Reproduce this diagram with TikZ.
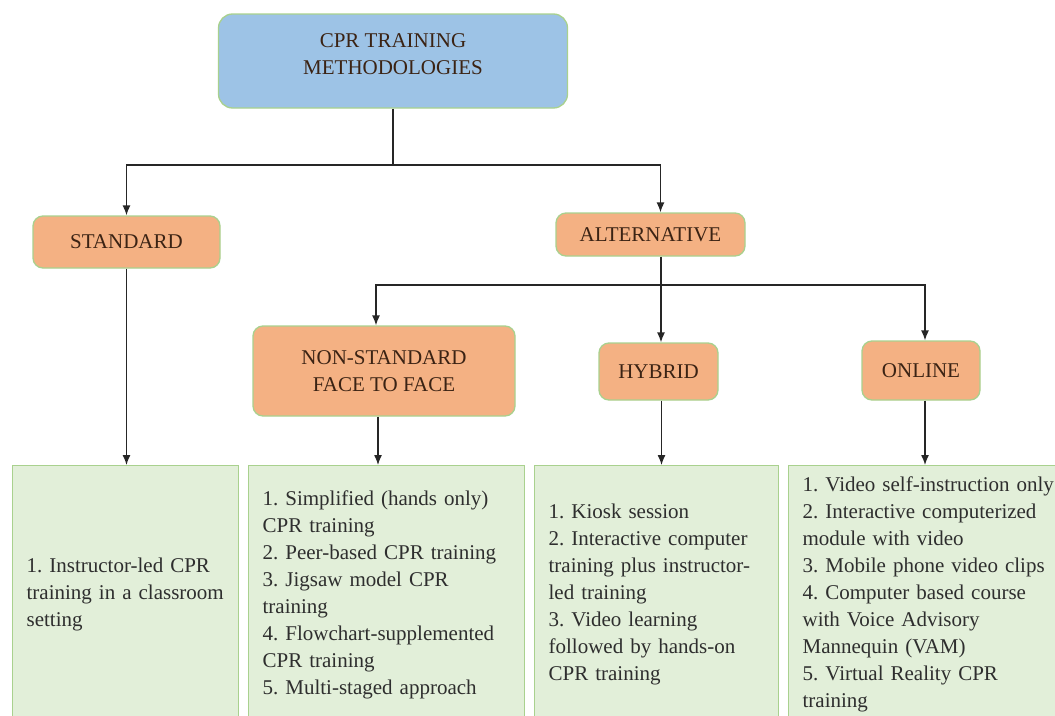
\documentclass[tikz,border=0pt]{standalone}
\usepackage{fontspec}
\setmainfont{Liberation Serif}
\usetikzlibrary{arrows.meta}
\definecolor{rootfill}{HTML}{9DC3E6}
\definecolor{catfill}{HTML}{F4B183}
\definecolor{listfill}{HTML}{E2EFD9}
\definecolor{boxline}{HTML}{A9D18E}
\definecolor{cattext}{HTML}{3B2314}
\definecolor{listtext}{HTML}{2E2E2E}
\begin{document}
\frenchspacing
\begin{tikzpicture}[
    x=1pt, y=-1pt,
    font=\fontsize{21}{27}\selectfont,
    rootbox/.style={draw=boxline, line width=1.3pt, fill=rootfill,
        rounded corners=14pt, align=center, text=cattext, text depth=13pt,
        minimum width=349pt, minimum height=94pt},
    catbox/.style={draw=boxline, line width=1.3pt, fill=catfill,
        rounded corners=10pt, align=center, text=cattext},
    listbox/.style={draw=boxline, line width=1.3pt, fill=listfill,
        anchor=north west, align=left, text=listtext, inner xsep=14pt,
        text width=#1, minimum height=258pt},
    edge/.style={line width=1.3pt, draw=black!85},
    arrow/.style={edge, -{Latex[length=10pt,width=8pt]}}
]
    \useasboundingbox (0,0) rectangle (1055,715);
    \fill[white] (0,0) rectangle (1055,715);
    \clip (0,0) rectangle (1055,715);
    \node[rootbox] (root) at (393,61) {CPR TRAINING\\METHODOLOGIES};
    \node[catbox, minimum width=187pt, minimum height=52pt] (std) at (126.5,242) {STANDARD};
    \node[catbox, minimum width=189pt, minimum height=43pt] (alt) at (650.5,234.5) {ALTERNATIVE};
    \node[catbox, minimum width=262pt, minimum height=90pt] (nsf) at (384,371) {NON-STANDARD\\FACE TO FACE};
    \node[catbox, minimum width=119pt, minimum height=57pt] (hyb) at (658.5,371.5) {HYBRID};
    \node[catbox, minimum width=118pt, minimum height=59pt] (onl) at (921,370.5) {ONLINE};
    \node[listbox=198pt] (lstd) at (12,465) {1. Instructor-led CPR\\training in a classroom\\setting};
    \node[listbox=248pt] (lnsf) at (248,465) {1. Simplified (hands only)\\CPR training\\2. Peer-based CPR training\\3. Jigsaw model CPR\\training\\4. Flowchart-supplemented\\CPR training\\5. Multi-staged approach};
    \node[listbox=216pt] (lhyb) at (534,465) {1. Kiosk session\\2. Interactive computer\\training plus instructor-\\led training\\3. Video learning\\followed by hands-on\\CPR training};
    \node[listbox=262pt] (lonl) at (788,465) {1. Video self-instruction only\\2. Interactive computerized\\module with video\\3. Mobile phone video clips\\4. Computer based course\\with Voice Advisory\\Mannequin (VAM)\\5. Virtual Reality CPR\\training};
    \coordinate (fork1) at (393,165);
    \coordinate (fork2) at (661,285);
    \draw[edge] (root.south) -- (fork1);
    \draw[arrow] (fork1) -| (std.north);
    \draw[arrow] (fork1) -| ([xshift=10pt]alt.north);
    \draw[edge] (alt.south -| fork2) -- (fork2);
    \draw[arrow] (fork2) -- (fork2 |- hyb.north);
    \draw[arrow] (fork2) -| ([xshift=-8pt]nsf.north);
    \draw[arrow] (fork2) -| ([xshift=4pt]onl.north);
    \draw[arrow] (std.south) -- (std.south |- lstd.north);
    \draw[arrow] ([xshift=-6pt]nsf.south) -- ([xshift=-6pt]nsf.south |- lnsf.north);
    \draw[arrow] ([xshift=3pt]hyb.south) -- ([xshift=3pt]hyb.south |- lhyb.north);
    \draw[arrow] ([xshift=4pt]onl.south) -- ([xshift=4pt]onl.south |- lonl.north);
\end{tikzpicture}
\end{document}
